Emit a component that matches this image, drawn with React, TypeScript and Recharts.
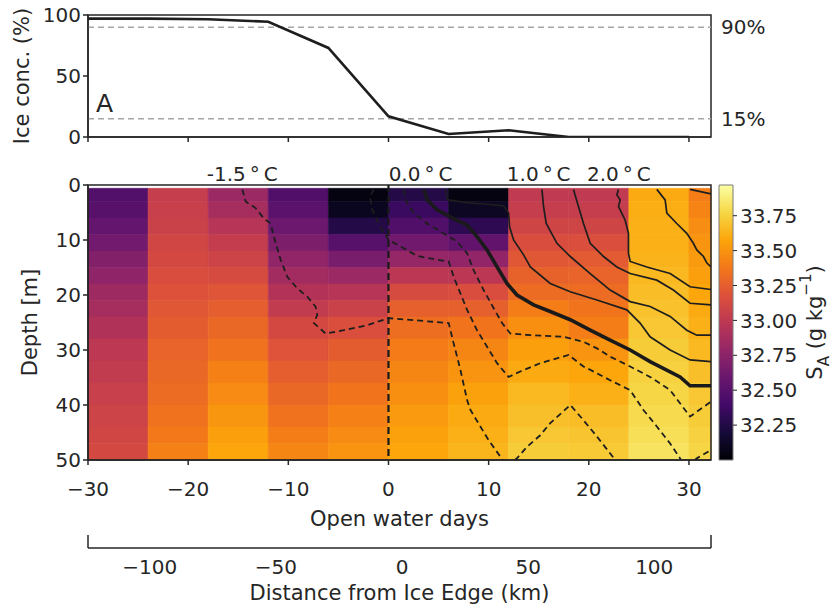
import React from "react";
import {
  ComposedChart,
  Line,
  XAxis,
  YAxis,
  ReferenceLine,
  ReferenceArea,
  Customized,
} from "recharts";

// ---------- panel A: ice concentration ----------
const iceDays = [-30, -24, -18, -12, -6, 0, 6, 12, 18, 24, 30];
const iceConc = [97, 97, 96.5, 94.5, 73, 17, 2.5, 5.5, 0, 0, 0];
const iceTicks = [0, 50, 100];
const iceThresholds = [90, 15];

// ---------- panel B: salinity section ----------
const dayTicks = [-30, -20, -10, 0, 10, 20, 30];
const depthTicks = [0, 10, 20, 30, 40, 50];
const dayEdges = [-30, -24, -18, -12, -6, 0, 6, 12, 18, 24, 30, 32.2];
const depthEdges = [0.6, 3, 6, 9, 12, 15, 18, 21, 24, 28, 32, 36, 40, 44, 47, 50];

// absolute salinity (g/kg) per column, top row first
const salM30 = [32.48, 32.5, 32.56, 32.63, 32.71, 32.77, 32.84, 32.88, 32.93, 32.99, 33.02, 33.05, 33.08, 33.1, 33.12];
const salM24 = [33.04, 33.05, 33.07, 33.1, 33.12, 33.15, 33.18, 33.21, 33.24, 33.28, 33.3, 33.32, 33.35, 33.38, 33.42];
const salM18 = [32.82, 32.88, 32.96, 33.03, 33.08, 33.14, 33.2, 33.25, 33.3, 33.35, 33.42, 33.46, 33.51, 33.55, 33.58];
const salM12 = [32.47, 32.51, 32.6, 32.68, 32.78, 32.86, 32.94, 33.02, 33.12, 33.19, 33.25, 33.3, 33.35, 33.4, 33.44];
const salM06 = [32.05, 32.1, 32.26, 32.5, 32.66, 32.82, 32.96, 33.07, 33.16, 33.24, 33.3, 33.36, 33.42, 33.46, 33.5];
const salP00 = [32.26, 32.36, 32.47, 32.62, 32.8, 32.98, 33.14, 33.26, 33.33, 33.39, 33.44, 33.48, 33.53, 33.56, 33.58];
const salP06 = [32.05, 32.12, 32.3, 32.55, 32.78, 32.98, 33.15, 33.26, 33.36, 33.44, 33.5, 33.56, 33.6, 33.62, 33.64];
const salP12 = [33.01, 33.04, 33.09, 33.15, 33.21, 33.27, 33.32, 33.4, 33.48, 33.55, 33.6, 33.65, 33.68, 33.71, 33.73];
const salP18 = [33.01, 33.04, 33.09, 33.16, 33.23, 33.28, 33.32, 33.36, 33.4, 33.5, 33.58, 33.62, 33.67, 33.7, 33.72];
const salP24 = [33.6, 33.61, 33.62, 33.62, 33.63, 33.65, 33.67, 33.69, 33.71, 33.73, 33.75, 33.77, 33.79, 33.81, 33.83];
const salP30 = [33.4, 33.43, 33.47, 33.5, 33.53, 33.55, 33.58, 33.6, 33.62, 33.65, 33.68, 33.71, 33.73, 33.75, 33.77];
const salinityCols = [salM30, salM24, salM18, salM12, salM06, salP00, salP06, salP12, salP18, salP24, salP30];

// temperature contours, [open water day, depth m]
const isoNeg15: [number, number][] = [
  [-14.59, 0.8], [-14.26, 3.0], [-13.26, 4.2], [-12.43, 6.1], [-11.76, 7.0], [-11.44, 9.4],
  [-10.77, 13.6], [-10.1, 16.7], [-9.1, 18.8], [-8.11, 20.3], [-7.28, 22.1], [-7.11, 23.6],
  [-7.45, 25.1], [-6.28, 27.0], [-4.46, 26.4], [-2.12, 25.5], [0, 24.2], [6.01, 25.1],
  [6.51, 28.8], [7.18, 33.6], [7.85, 39.1], [8.18, 40.9], [9.17, 43.9], [10.0, 46.4],
  [11.17, 49.4], [11.4, 50],
];
const isoNeg10: [number, number][] = [
  [-1.47, 0.8], [-1.86, 2.1], [-1.63, 4.5], [-0.8, 7.6], [0.03, 10.0], [1.53, 11.5],
  [2.86, 12.9], [4.86, 13.6], [6.01, 13.9], [6.51, 16.7], [7.18, 19.7], [7.85, 22.7],
  [8.84, 26.4], [9.84, 29.4], [10.84, 32.4], [11.99, 34.9], [13.16, 33.9], [15.15, 32.4],
  [17.98, 30.9], [19.47, 33.0], [20.14, 33.6], [22.13, 35.5], [24.13, 37.3], [25.45, 40.9],
  [26.79, 43.9], [28.12, 47.0], [29.11, 49.7], [29.2, 50],
];
const isoNeg05: [number, number][] = [
  [1.53, 0.8], [1.69, 2.7], [2.52, 5.1], [3.86, 7.0], [5.51, 8.8], [6.85, 10.3],
  [7.85, 12.4], [8.5, 15.5], [9.5, 19.1], [10.5, 22.4], [11.34, 25.1], [12.16, 27.0],
  [14.16, 27.3], [17.48, 27.6], [19.47, 28.5], [20.81, 29.7], [22.13, 31.2], [24.13, 33.0],
  [26.12, 34.9], [28.12, 37.3], [30.11, 42.1], [32.2, 39.4],
];
const isoNeg15Deep: [number, number][] = [
  [12.6, 50], [12.83, 49.7], [13.83, 47.6], [15.15, 45.5], [16.15, 43.3], [18.15, 40.0],
  [19.44, 42.7], [20.84, 45.8], [22.43, 49.5], [22.6, 50],
];
const isoNeg10Deep: [number, number][] = [[30.6, 50], [30.78, 49.7], [32.2, 48.2]];
const iso00: [number, number][] = [
  [3.52, 0.8], [3.86, 2.7], [4.86, 4.5], [6.51, 6.1], [7.85, 7.3], [8.84, 9.4],
  [9.84, 11.8], [10.84, 14.9], [11.83, 17.9], [12.83, 20.0], [14.49, 21.8], [16.15, 23.0],
  [18.15, 24.5], [20.14, 26.4], [22.13, 28.2], [24.13, 30.0], [26.12, 32.1], [29.11, 34.9],
  [30.11, 36.5], [32.2, 36.5],
];
const iso05: [number, number][] = [
  [5.68, 0.8], [5.91, 2.7], [7.85, 3.2], [9.84, 3.5], [11.5, 3.8], [11.99, 5.1],
  [12.09, 7.6], [12.49, 10.0], [13.49, 12.7], [14.16, 14.9], [16.15, 17.9], [18.15, 19.4],
  [20.81, 20.9], [23.8, 22.7], [25.12, 25.1], [26.12, 27.6], [28.12, 30.0], [30.11, 31.8],
  [32.2, 32.1],
];
const iso10: [number, number][] = [
  [15.32, 0.8], [15.48, 3.9], [15.75, 7.0], [16.82, 10.6], [18.15, 13.0], [20.14, 16.1],
  [22.13, 19.1], [24.13, 21.2], [26.12, 22.1], [28.12, 23.9], [29.78, 26.4], [30.78, 27.3],
  [32.2, 27.3],
];
const iso15: [number, number][] = [
  [18.47, 0.8], [18.97, 3.9], [19.47, 7.0], [20.14, 10.6], [21.47, 13.0], [22.8, 14.9],
  [24.13, 16.1], [26.79, 17.3], [28.44, 19.1], [30.11, 21.5], [32.2, 21.8],
];
const iso20: [number, number][] = [
  [22.96, 0.8], [22.8, 1.8], [23.13, 2.7], [22.96, 3.9], [23.63, 6.4], [23.96, 8.8],
  [23.96, 12.4], [24.13, 13.9], [25.79, 14.9], [28.12, 16.1], [30.11, 18.5], [32.2, 19.0],
];
const iso25: [number, number][] = [
  [26.79, 0.8], [27.62, 2.7], [27.79, 5.1], [28.78, 7.0], [29.78, 8.8], [30.44, 10.6],
  [30.78, 11.8], [31.45, 13.0], [31.79, 14.2], [32.2, 14.9],
];
const iso30: [number, number][] = [[30.11, 0.8], [32.2, 1.6]];

const tempLabels = ["-1.5\u2009°\u2009C", "0.0\u2009°\u2009C", "1.0\u2009°\u2009C", "2.0\u2009°\u2009C"];
const tempLabelDays = [-14.6, 3.2, 15.0, 23.0];

// ---------- distance axis & colour bar ----------
const kmTicks = [-100, -50, 0, 50, 100];
const kmRange = [-124.5, 122.5];
const cbarTicks = [32.25, 32.5, 32.75, 33.0, 33.25, 33.5, 33.75];
const cbarRange = [32.0, 33.97];

const FONT = "'DejaVu Sans', sans-serif";
const INK = "#262626";
const TICK = { fill: INK, fontSize: 20, fontFamily: FONT };
const INFERNO = [
  "#000004", "#160b39", "#420a68", "#6a176e", "#932667", "#bc3754",
  "#dd513a", "#f37819", "#fca50a", "#f6d746", "#fcffa4",
];

function inferno(t: number): string {
  const c = Math.max(0, Math.min(1, t)) * (INFERNO.length - 1);
  const i = Math.min(Math.floor(c), INFERNO.length - 2);
  const f = c - i;
  const a = INFERNO[i];
  const b = INFERNO[i + 1];
  const ch = (h: string, k: number) => parseInt(h.slice(1 + 2 * k, 3 + 2 * k), 16);
  const out = [0, 1, 2].map((k) => Math.round(ch(a, k) + (ch(b, k) - ch(a, k)) * f));
  return `rgb(${out.join(",")})`;
}

const signed = (v: number) => (v < 0 ? `\u2212${Math.abs(v)}` : `${v}`);
const toRows = (pts: [number, number][]) => pts.map(([day, depth]) => ({ day, depth }));

const rotatedLabel = (text: React.ReactNode, cx: number) => (props: any) => {
  const vb = props.viewBox || {};
  const cy = vb.y + vb.height / 2;
  return (
    <text
      x={cx}
      y={cy}
      transform={`rotate(-90 ${cx} ${cy})`}
      textAnchor="middle"
      dominantBaseline="central"
      fill={INK}
      fontSize={21}
      fontFamily={FONT}
    >
      {text}
    </text>
  );
};

export default function App() {
  const iceRows = iceDays.map((d, i) => ({ day: d, ice: iceConc[i] }));

  const cells: { x1: number; x2: number; y1: number; y2: number; fill: string }[] = [];
  salinityCols.forEach((col, c) =>
    col.forEach((s, r) =>
      cells.push({
        x1: dayEdges[c],
        x2: dayEdges[c + 1],
        y1: depthEdges[r],
        y2: depthEdges[r + 1],
        fill: inferno((s - cbarRange[0]) / (cbarRange[1] - cbarRange[0])),
      })
    )
  );

  const dashed = [isoNeg15, isoNeg10, isoNeg05, isoNeg15Deep, isoNeg10Deep];
  const thin = [iso05, iso10, iso15, iso20, iso25, iso30];

  return (
    <div
      style={{
        position: "absolute",
        left: 0,
        top: 0,
        width: 835,
        height: 608,
        background: "#fff",
        fontFamily: FONT,
      }}
    >
      {/* panel A */}
      <div style={{ position: "absolute", left: 0, top: 0 }}>
        <ComposedChart
          width={835}
          height={170}
          data={iceRows}
          margin={{ top: 15, right: 64, bottom: 0, left: 28 }}
        >
          <XAxis
            dataKey="day"
            type="number"
            domain={[-30, 32.2]}
            allowDataOverflow
            ticks={dayTicks}
            tickFormatter={() => ""}
            tickSize={5}
            height={33}
            stroke={INK}
            strokeWidth={1.5}
          />
          <YAxis
            domain={[0, 100]}
            allowDataOverflow
            ticks={iceTicks}
            width={60}
            tickSize={5}
            tickMargin={2}
            stroke={INK}
            strokeWidth={1.5}
            tick={TICK}
            label={{ content: rotatedLabel("Ice conc. (%)", 22) }}
          />
          <YAxis
            yAxisId="r"
            orientation="right"
            domain={[0, 100]}
            allowDataOverflow
            ticks={iceThresholds}
            width={60}
            tickLine={false}
            axisLine={false}
            tickMargin={4}
            tick={TICK}
            tickFormatter={(v: number) => `${v}%`}
          />
          {iceThresholds.map((v) => (
            <ReferenceLine
              key={v}
              y={v}
              stroke="#a6a6a6"
              strokeWidth={1.5}
              strokeDasharray="6 4"
            />
          ))}
          <ReferenceArea
            x1={-30}
            x2={32.2}
            y1={0}
            y2={100}
            fill="none"
            fillOpacity={0}
            stroke={INK}
            strokeWidth={1.5}
          />
          <Line
            dataKey="ice"
            type="linear"
            stroke="#1e1e1e"
            strokeWidth={2.6}
            dot={false}
            isAnimationActive={false}
          />
          <Customized
            component={() => (
              <text x={96} y={112} fill={INK} fontSize={25} fontFamily={FONT}>
                A
              </text>
            )}
          />
        </ComposedChart>
      </div>

      {/* panel B */}
      <div style={{ position: "absolute", left: 0, top: 150 }}>
        <ComposedChart
          width={835}
          height={390}
          margin={{ top: 10, right: 124, bottom: 12, left: 28 }}
        >
          <XAxis
            dataKey="day"
            type="number"
            domain={[-30, 32.2]}
            allowDataOverflow
            ticks={dayTicks}
            tickFormatter={signed}
            tickSize={5}
            tickMargin={17}
            height={68}
            stroke={INK}
            strokeWidth={1.5}
            tick={TICK}
            label={{
              value: "Open water days",
              position: "insideBottom",
              offset: 2,
              fill: INK,
              fontSize: 21,
              fontFamily: FONT,
            }}
          />
          <XAxis
            xAxisId="top"
            orientation="top"
            dataKey="day"
            type="number"
            domain={[-30, 32.2]}
            allowDataOverflow
            ticks={tempLabelDays}
            tickFormatter={(_v: number, i: number) => tempLabels[i]}
            tickLine={false}
            axisLine={false}
            tickSize={2}
            tickMargin={2}
            height={25}
            tick={TICK}
          />
          <YAxis
            type="number"
            domain={[0, 50]}
            reversed
            allowDataOverflow
            ticks={depthTicks}
            width={60}
            tickSize={5}
            tickMargin={2}
            stroke={INK}
            strokeWidth={1.5}
            tick={TICK}
            label={{ content: rotatedLabel("Depth [m]", 30) }}
          />
          {cells.map((c, i) => (
            <ReferenceArea
              key={`cell-${i}`}
              x1={c.x1}
              x2={c.x2}
              y1={c.y1}
              y2={c.y2}
              fill={c.fill}
              fillOpacity={1}
              stroke={c.fill}
              strokeWidth={0.6}
            />
          ))}
          <ReferenceArea
            x1={-30}
            x2={32.2}
            y1={0}
            y2={50}
            fill="none"
            fillOpacity={0}
            stroke={INK}
            strokeWidth={1.5}
          />
          {dashed.map((pts, i) => (
            <Line
              key={`neg-${i}`}
              data={toRows(pts)}
              dataKey="depth"
              type="linear"
              stroke="#1e1e1e"
              strokeWidth={1.8}
              strokeDasharray="6 4"
              dot={false}
              isAnimationActive={false}
            />
          ))}
          {thin.map((pts, i) => (
            <Line
              key={`pos-${i}`}
              data={toRows(pts)}
              dataKey="depth"
              type="linear"
              stroke="#1e1e1e"
              strokeWidth={1.7}
              dot={false}
              isAnimationActive={false}
            />
          ))}
          <Line
            data={toRows(iso00)}
            dataKey="depth"
            type="linear"
            stroke="#1a1a1a"
            strokeWidth={3.6}
            dot={false}
            isAnimationActive={false}
          />
          <Line
            xAxisId="top"
            data={[{ day: 0, depth: 0 }, { day: 0, depth: 50 }]}
            dataKey="depth"
            type="linear"
            stroke="#1a1a1a"
            strokeWidth={2.2}
            strokeDasharray="7 4"
            dot={false}
            isAnimationActive={false}
          />
          <Customized
            component={() => (
              <text x={96} y={71} fill="#ffffff" fontSize={25} fontFamily={FONT}>
                B
              </text>
            )}
          />
        </ComposedChart>
      </div>

      {/* colour bar */}
      <div style={{ position: "absolute", left: 0, top: 150 }}>
        <ComposedChart
          width={835}
          height={390}
          margin={{ top: 35, right: 2, bottom: 80, left: 719 }}
        >
          <defs>
            <linearGradient id="infernoBar" x1="0" y1="1" x2="0" y2="0">
              {INFERNO.map((c, i) => (
                <stop key={c} offset={i / (INFERNO.length - 1)} stopColor={c} />
              ))}
            </linearGradient>
          </defs>
          <XAxis type="number" dataKey="x" domain={[0, 1]} allowDataOverflow hide />
          <YAxis
            orientation="right"
            type="number"
            domain={cbarRange}
            allowDataOverflow
            ticks={cbarTicks}
            width={100}
            tickSize={4}
            tickMargin={3}
            axisLine={false}
            stroke={INK}
            tick={TICK}
            tickFormatter={(v: number) => v.toFixed(2)}
            label={{
              content: rotatedLabel(
                <>
                  S
                  <tspan baselineShift="sub" fontSize={15}>A</tspan>
                  <tspan> (g kg</tspan>
                  <tspan baselineShift="super" fontSize={15}>{"\u22121"}</tspan>
                  <tspan>)</tspan>
                </>,
                815
              ),
            }}
          />
          <ReferenceArea
            x1={0}
            x2={1}
            y1={cbarRange[0]}
            y2={cbarRange[1]}
            fill="url(#infernoBar)"
            fillOpacity={1}
            stroke="#7a7a7a"
            strokeWidth={1}
          />
        </ComposedChart>
      </div>

      {/* distance from ice edge axis */}
      <div style={{ position: "absolute", left: 0, top: 0 }}>
        <ComposedChart
          width={835}
          height={608}
          margin={{ top: 535, right: 124, bottom: 0, left: 88 }}
        >
          <XAxis
            type="number"
            dataKey="km"
            domain={kmRange}
            allowDataOverflow
            ticks={kmTicks}
            tickFormatter={signed}
            tickLine={false}
            tickSize={8}
            tickMargin={4}
            height={60}
            stroke={INK}
            strokeWidth={1.5}
            tick={TICK}
            label={{
              value: "Distance from Ice Edge (km)",
              position: "insideBottom",
              offset: 8,
              fill: INK,
              fontSize: 21,
              fontFamily: FONT,
            }}
          />
          <YAxis type="number" domain={[0, 1]} allowDataOverflow hide />
          {[kmRange[0], kmRange[1]].map((v) => (
            <ReferenceLine key={v} x={v} stroke={INK} strokeWidth={1.5} />
          ))}
        </ComposedChart>
      </div>
    </div>
  );
}
